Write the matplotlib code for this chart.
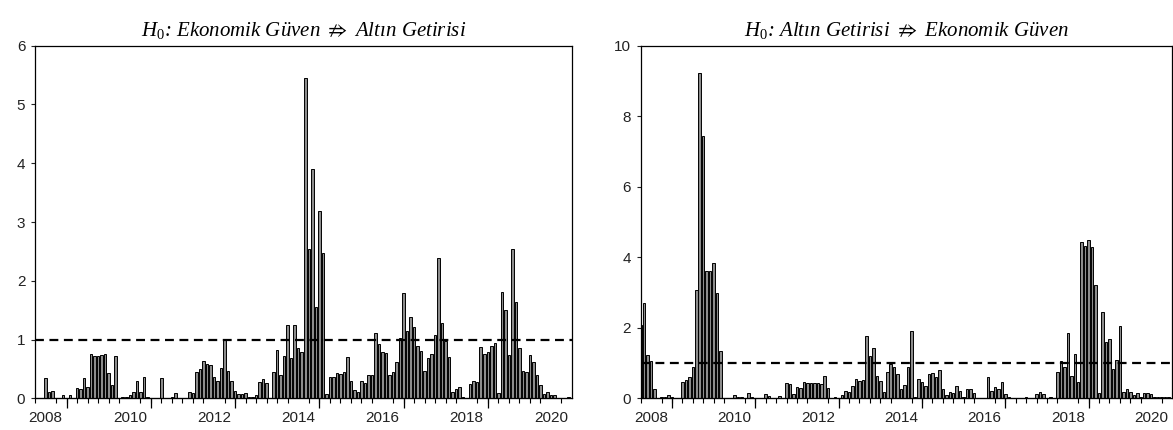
import numpy as np
import pandas as pd
import matplotlib
matplotlib.use("Agg")
import matplotlib.pyplot as plt

plt.rcParams['font.family'] = ['Liberation Sans', 'DejaVu Sans']
plt.rcParams['mathtext.fontset'] = 'custom'
plt.rcParams['mathtext.it'] = 'Liberation Serif:italic'
plt.rcParams['mathtext.rm'] = 'Liberation Serif'

# monthly series, 2008M04 - 2020M12
start = '2008-04'

ekonomik_to_altin = [
    0.0, 0.01, 0.01, 0.34, 0.10, 0.13, 0.0, 0.01, 0.05, 0.0,
    0.05, 0.0, 0.17, 0.15, 0.34, 0.20, 0.76, 0.72, 0.72, 0.73,
    0.76, 0.43, 0.22, 0.72, 0.01, 0.03, 0.02, 0.05, 0.11, 0.30,
    0.10, 0.36, 0.03, 0.0, 0.0, 0.01, 0.34, 0.0, 0.01, 0.03,
    0.09, 0.01, 0.0, 0.01, 0.11, 0.09, 0.44, 0.50, 0.63, 0.59,
    0.57, 0.36, 0.29, 0.51, 0.99, 0.47, 0.30, 0.12, 0.08, 0.08,
    0.09, 0.03, 0.03, 0.05, 0.28, 0.32, 0.26, 0.0, 0.45, 0.82,
    0.39, 0.72, 1.25, 0.69, 1.25, 0.85, 0.79, 5.45, 2.54, 3.91,
    1.56, 3.18, 2.47, 0.07, 0.36, 0.36, 0.43, 0.41, 0.44, 0.71,
    0.30, 0.14, 0.11, 0.30, 0.26, 0.40, 0.40, 1.11, 0.92, 0.79,
    0.77, 0.40, 0.44, 0.62, 1.02, 1.79, 1.15, 1.38, 1.21, 0.89,
    0.81, 0.47, 0.68, 0.75, 1.07, 2.39, 1.28, 0.98, 0.71, 0.11,
    0.15, 0.19, 0.03, 0.01, 0.24, 0.30, 0.28, 0.88, 0.75, 0.79,
    0.89, 0.94, 0.09, 1.81, 1.50, 0.74, 2.54, 1.64, 0.86, 0.47,
    0.45, 0.74, 0.62, 0.39, 0.22, 0.07, 0.11, 0.05, 0.05, 0.0,
    0.0, 0.01, 0.03,
]

altin_to_ekonomik = [
    2.08, 2.71, 1.22, 1.05, 0.25, 0.0, 0.05, 0.05, 0.08, 0.05,
    0.0, 0.0, 0.46, 0.53, 0.60, 0.90, 3.08, 9.22, 7.44, 3.60,
    3.60, 3.85, 2.98, 1.35, 0.0, 0.0, 0.0, 0.10, 0.05, 0.05,
    0.0, 0.14, 0.05, 0.0, 0.0, 0.0, 0.13, 0.07, 0.0, 0.0,
    0.07, 0.0, 0.43, 0.41, 0.12, 0.32, 0.30, 0.46, 0.43, 0.43,
    0.43, 0.43, 0.41, 0.63, 0.29, 0.0, 0.05, 0.0, 0.08, 0.21,
    0.19, 0.36, 0.55, 0.48, 0.53, 1.77, 1.21, 1.42, 0.64, 0.50,
    0.19, 0.74, 0.97, 0.88, 0.69, 0.26, 0.39, 0.90, 1.91, 0.05,
    0.56, 0.46, 0.35, 0.69, 0.73, 0.60, 0.80, 0.26, 0.08, 0.19,
    0.16, 0.35, 0.22, 0.03, 0.26, 0.26, 0.14, 0.0, 0.0, 0.0,
    0.60, 0.22, 0.32, 0.26, 0.47, 0.12, 0.03, 0.0, 0.0, 0.0,
    0.0, 0.03, 0.0, 0.0, 0.12, 0.19, 0.12, 0.0, 0.03, 0.0,
    0.74, 1.05, 0.90, 1.84, 0.64, 1.26, 0.47, 4.42, 4.33, 4.50,
    4.30, 3.20, 0.16, 2.46, 1.59, 1.67, 0.82, 1.09, 2.05, 0.19,
    0.26, 0.19, 0.08, 0.14, 0.05, 0.14, 0.14, 0.11, 0.03, 0.03,
    0.03, 0.03, 0.05,
]

titles = [r'$H_0$: Ekonomik Güven $\nRightarrow$ Altın Getirisi',
          r'$H_0$: Altın Getirisi $\nRightarrow$ Ekonomik Güven']
ymax = [6, 10]
ystep = [1, 2]
critical = 1.0

months = pd.period_range(start, periods=len(ekonomik_to_altin), freq='M')
idx = np.arange(len(months))
quarter_pos = idx[np.isin(months.month, [1, 4, 7, 10])]
long_pos = idx[(months.month == 1) & (months.year % 2 == 1)]
lab_mask = (months.month == 7) & (months.year % 2 == 0)
lab_pos = idx[lab_mask]
lab_txt = [str(y) for y in months.year[lab_mask]]

fig = plt.figure(figsize=(11.73, 4.30), dpi=100)
rects = [[35/1173, 31.7/430, 537/1173, 352.6/430],
         [640.7/1173, 31.7/430, 531.3/1173, 352.6/430]]

for k, vals in enumerate([ekonomik_to_altin, altin_to_ekonomik]):
    ax = fig.add_axes(rects[k])
    ax.bar(idx, vals, width=0.72, color='#8c8c8c', edgecolor='black', linewidth=0.7)
    ax.axhline(critical, color='black', lw=1.6, ls=(0, (4, 2.5)))
    ax.set_xlim(0, len(idx))
    ax.set_ylim(0, ymax[k])
    ax.set_yticks(np.arange(0, ymax[k] + 1, ystep[k]))
    ax.tick_params(axis='y', direction='out', length=3, width=0.8, pad=4,
                   labelsize=11, colors='#222222')
    ax.set_xticks(lab_pos, labels=lab_txt)
    ax.tick_params(axis='x', which='major', length=0, pad=9, labelsize=11,
                   colors='#222222')
    ax.set_xticks(quarter_pos, minor=True)
    ax.tick_params(axis='x', which='minor', direction='out', length=3.5, width=0.8)
    sec = ax.secondary_xaxis('bottom')
    sec.set_xticks(long_pos, labels=[])
    sec.tick_params(length=7, width=0.9)
    for s in ax.spines.values():
        s.set_linewidth(0.9)
    ax.set_title(titles[k], fontsize=15, style='italic', family='Liberation Serif', pad=7)

fig.savefig('out.png', dpi=100)
